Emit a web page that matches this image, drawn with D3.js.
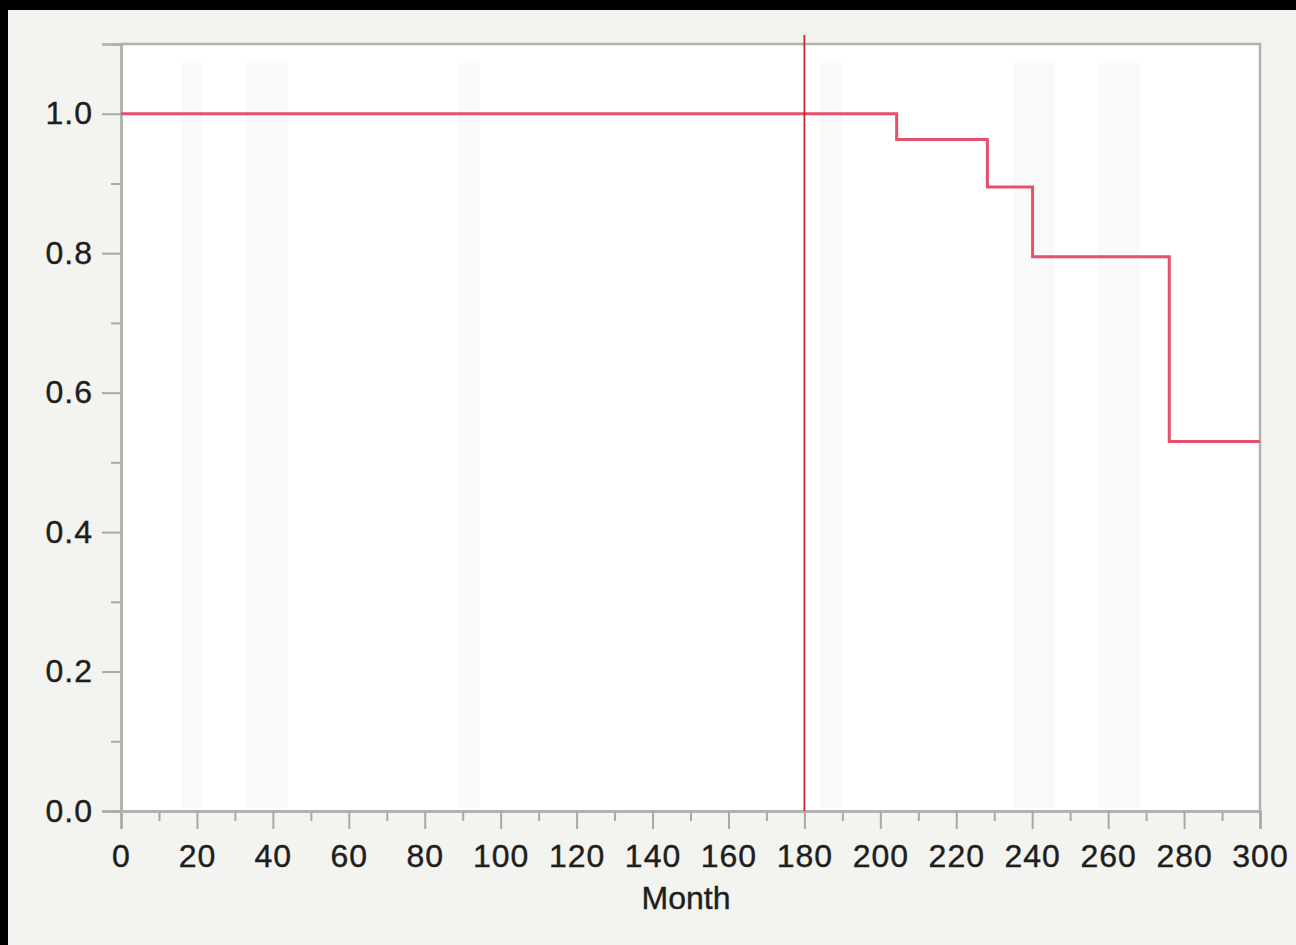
<!DOCTYPE html>
<html>
<head>
<meta charset="utf-8">
<script src="https://cdn.jsdelivr.net/npm/d3@7"></script>
<style>
	html, body { margin: 0; padding: 0; background: #000; }
	svg { display: block; }
	.tick text { font-family: "Liberation Sans", Arial, sans-serif; }
</style>
</head>
<body>
<div id="graph"></div>
<script>
var width = 1296;
var height = 945;

// survival curve steps (month, survival)
var months = [0, 204.3, 228.2, 240.1, 276.1, 300];
var survival = [1.0, 0.963, 0.895, 0.795, 0.530, 0.530];

// reference line
var refMonth = 180;

// faint background bands (month ranges)
var bandStart = [15.8, 32.9, 88.8, 184, 235, 257.3];
var bandEnd = [21.3, 44, 94.5, 190, 246, 268.4];

var xMajor = d3.range(0, 301, 20);
var xMinor = d3.range(10, 300, 20);
var yMajor = [0, 0.2, 0.4, 0.6, 0.8, 1.0];
var yMinor = [0.1, 0.3, 0.5, 0.7, 0.9, 1.1];

var xScale = d3.scaleLinear().domain([0, 300]).range([121, 1260]);
var yScale = d3.scaleLinear().domain([0, 1.1]).range([811, 44]);

var chart = d3.select("#graph")
	.append("svg")
	.attr("width", width)
	.attr("height", height);

// panel
chart.append("rect")
	.attr("x", 8).attr("y", 10)
	.attr("width", width - 8).attr("height", height - 10)
	.attr("fill", "#f3f3ef");

// plot area
chart.append("rect")
	.attr("x", xScale(0)).attr("y", yScale(1.1))
	.attr("width", xScale(300) - xScale(0))
	.attr("height", yScale(0) - yScale(1.1))
	.attr("fill", "#ffffff");

chart.selectAll("rect.band")
	.data(bandStart)
	.enter()
	.append("rect")
	.attr("class", "band")
	.attr("x", function (d) { return xScale(d); })
	.attr("y", 63)
	.attr("width", function (d, i) { return xScale(bandEnd[i]) - xScale(d); })
	.attr("height", 808 - 63)
	.attr("fill", "#f9f9fa");

// frame top + right
chart.append("path")
	.attr("d", "M" + xScale(0) + "," + yScale(1.1) + "H" + xScale(300) + "V" + yScale(0))
	.attr("fill", "none")
	.attr("stroke", "#b0b0ae")
	.attr("stroke-width", 2.5);

function styleAxis(g) {
	g.select(".domain").attr("stroke", "#b0b0ae").attr("stroke-width", 2.5);
	g.selectAll(".tick line").attr("stroke", "#a8a8a6").attr("stroke-width", 2);
	g.selectAll(".tick text")
		.attr("fill", "#1e1e1e")
		.attr("font-size", 32)
		.attr("stroke", "#1e1e1e")
		.attr("stroke-width", 0.4);
}

// x axis
var xAxisMinor = d3.axisBottom(xScale).tickValues(xMinor).tickSize(10).tickFormat("");
var xAxis = d3.axisBottom(xScale).tickValues(xMajor).tickSize(18).tickPadding(15);

chart.append("g")
	.attr("transform", "translate(0," + yScale(0) + ")")
	.call(xAxisMinor)
	.call(styleAxis);

chart.append("g")
	.attr("transform", "translate(0," + yScale(0) + ")")
	.call(xAxis)
	.call(styleAxis)
	.selectAll(".tick text")
	.attr("letter-spacing", 1);

// y axis
var yAxisMinor = d3.axisLeft(yScale).tickValues(yMinor).tickSize(10).tickFormat("");
var yAxis = d3.axisLeft(yScale).tickValues(yMajor).tickSize(19).tickPadding(9)
	.tickFormat(d3.format(".1f"));

chart.append("g")
	.attr("transform", "translate(" + xScale(0) + ",0)")
	.call(yAxisMinor)
	.call(styleAxis);

chart.append("g")
	.attr("transform", "translate(" + xScale(0) + ",0)")
	.call(yAxis)
	.call(styleAxis)
	.selectAll(".tick text")
	.attr("letter-spacing", 1);

chart.append("text")
	.attr("x", 686)
	.attr("y", 909)
	.attr("text-anchor", "middle")
	.attr("font-family", "Liberation Sans, Arial, sans-serif")
	.attr("font-size", 32)
	.attr("fill", "#1e1e1e")
	.attr("stroke", "#1e1e1e")
	.attr("stroke-width", 0.4)
	.text("Month");

// survival step line
var points = months.map(function (m, i) { return [m, survival[i]]; });
var line = d3.line()
	.x(function (d) { return xScale(d[0]); })
	.y(function (d) { return yScale(d[1]); })
	.curve(d3.curveStepAfter);

chart.append("path")
	.datum(points)
	.attr("d", line)
	.attr("fill", "none")
	.attr("stroke", "#e5506c")
	.attr("stroke-width", 3);

// vertical reference line
chart.append("line")
	.attr("x1", xScale(refMonth)).attr("x2", xScale(refMonth))
	.attr("y1", 35).attr("y2", yScale(0))
	.attr("stroke", "#c4282c")
	.attr("stroke-width", 1.8);
</script>
</body>
</html>
